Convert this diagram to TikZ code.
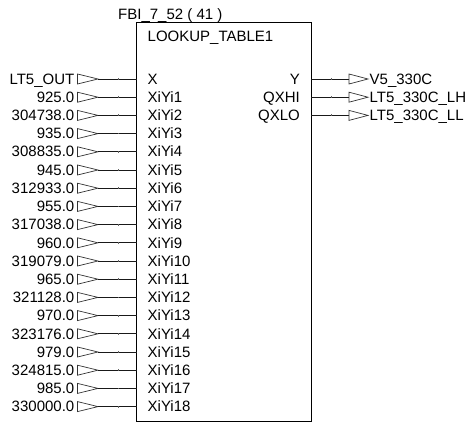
\documentclass[tikz,border=0pt]{standalone}
\usepackage{fontspec}
\setmainfont{Liberation Sans}
\begin{document}
\begin{tikzpicture}[x=1pt,y=-1pt,
  lbl/.style={inner sep=0pt,font=\fontsize{15}{18}\selectfont},
  wire/.style={line width=0.9pt,draw=black!90},
  tri/.style={line width=0.7pt,draw=black!80},
  tick/.style={fill=black!60}]
\useasboundingbox (0,0) rectangle (473,422);
% block
\draw[line width=0.9pt] (136.5,22.5) coordinate (bTL) rectangle (311,421) coordinate (bBR);
\node[lbl,anchor=base west] (title) at (118,19.5) {FBI\_7\_52 ( 41 )};
\node[lbl,anchor=base west] (type) at (147.5,41.7) {LOOKUP\_TABLE1};
% inputs
\foreach \txt/\pin [count=\i from 0] in {LT5\_OUT/X,925.0/XiYi1,304738.0/XiYi2,935.0/XiYi3,308835.0/XiYi4,945.0/XiYi5,312933.0/XiYi6,955.0/XiYi7,317038.0/XiYi8,960.0/XiYi9,319079.0/XiYi10,965.0/XiYi11,321128.0/XiYi12,970.0/XiYi13,323176.0/XiYi14,979.0/XiYi15,324815.0/XiYi16,985.0/XiYi17,330000.0/XiYi18}{
  \pgfmathsetmacro{\yy}{79+18.2*\i}
  \node[lbl,anchor=base east] (in\i) at (74.5,\yy+5.2) {\txt};
  \coordinate (tb\i) at (77.5,\yy);
  \coordinate (tt\i) at (98,\yy);
  \draw[tri] (77.5,\yy-5) -- (tt\i) -- (77.5,\yy+5) -- cycle;
  \coordinate (p\i) at (136.5,\yy);
  \draw[wire] (tt\i) -- (p\i);
  \fill[tick] (117.5,\yy-0.9) rectangle (119,\yy+0.9);
  \node[lbl,anchor=base west] (pn\i) at (147.5,\yy+5.2) {\pin};
}
% outputs
\foreach \pin/\txt [count=\i from 0] in {Y/V5\_330C,QXHI/LT5\_330C\_LH,QXLO/LT5\_330C\_LL}{
  \pgfmathsetmacro{\yy}{79+18.2*\i}
  \node[lbl,anchor=base east] (on\i) at (300,\yy+5.2) {\pin};
  \coordinate (q\i) at (311,\yy);
  \coordinate (ob\i) at (349,\yy);
  \draw[wire] (q\i) -- (ob\i);
  \fill[tick] (330.5,\yy-0.9) rectangle (332,\yy+0.9);
  \draw[tri] (349,\yy-5) -- (368,\yy) -- (349,\yy+5) -- cycle;
  \node[lbl,anchor=base west] (out\i) at (369.5,\yy+5.2) {\txt};
}
\end{tikzpicture}
\end{document}
